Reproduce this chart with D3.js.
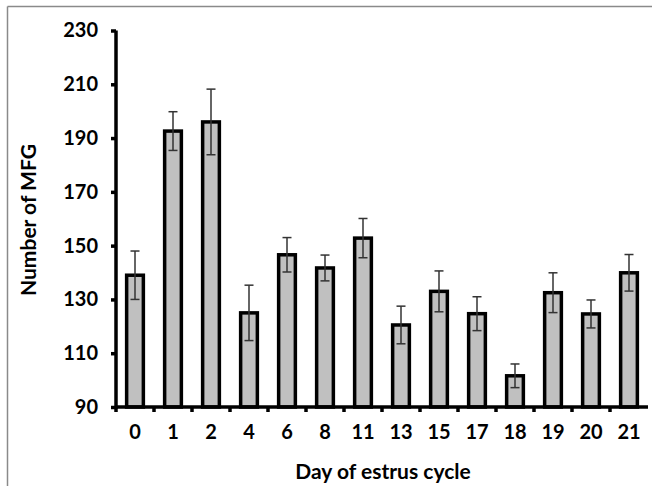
<!DOCTYPE html>
<meta charset="utf-8">
<style>
body { margin: 0; background: #fff; }
text { font-family: Lato, "Open Sans", sans-serif; font-weight: bold; fill: #000; }
</style>
<svg width="652" height="486"></svg>
<script src="https://cdn.jsdelivr.net/npm/d3@7"></script>
<script>

var days = ["0", "1", "2", "4", "6", "8", "11", "13", "15", "17", "18", "19", "20", "21"];
var means = [139, 192.6, 196, 125, 146.6, 141.7, 152.8, 120.5, 133, 124.7, 101.6, 132.5, 124.6, 139.9];
var errs = [9, 7.2, 12.2, 10.3, 6.4, 4.8, 7.3, 7, 7.6, 6.3, 4.4, 7.4, 5.2, 6.8];
var yTicks = [90, 110, 130, 150, 170, 190, 210, 230];

var svg = d3.select("svg");

// frame lines (top and left only)
svg.append("line").attr("x1", 7.5).attr("x2", 652).attr("y1", 6.5).attr("y2", 6.5)
  .attr("stroke", "#8a8a8a").attr("stroke-width", 1.5);
svg.append("line").attr("x1", 7.5).attr("x2", 7.5).attr("y1", 6.5).attr("y2", 486)
  .attr("stroke", "#8a8a8a").attr("stroke-width", 1.5);

var plotLeft = 116, plotRight = 648, plotTop = 30.5, plotBottom = 407;

var x = d3.scaleBand().domain(days).range([plotLeft, plotRight]);
var y = d3.scaleLinear().domain([90, 230]).range([plotBottom, plotTop]);

var bw = x.bandwidth() * 0.44;

var g = svg.append("g");

g.selectAll("rect.bar")
  .data(days)
  .enter().append("rect")
  .attr("class", "bar")
  .attr("x", function(d) { return x(d) + x.bandwidth() / 2 - bw / 2; })
  .attr("y", function(d, i) { return y(means[i]); })
  .attr("width", bw)
  .attr("height", function(d, i) { return plotBottom - y(means[i]); })
  .attr("fill", "#c0c0c0")
  .attr("stroke", "#000")
  .attr("stroke-width", 3.5);

var eb = g.selectAll("g.err")
  .data(days)
  .enter().append("g")
  .attr("class", "err")
  .attr("stroke", "#333")
  .attr("stroke-width", 1.5);

eb.append("line")
  .attr("x1", function(d) { return x(d) + x.bandwidth() / 2; })
  .attr("x2", function(d) { return x(d) + x.bandwidth() / 2; })
  .attr("y1", function(d, i) { return y(means[i] + errs[i]); })
  .attr("y2", function(d, i) { return y(means[i] - errs[i]); });
eb.append("line")
  .attr("x1", function(d) { return x(d) + x.bandwidth() / 2 - 4.5; })
  .attr("x2", function(d) { return x(d) + x.bandwidth() / 2 + 4.5; })
  .attr("y1", function(d, i) { return y(means[i] + errs[i]); })
  .attr("y2", function(d, i) { return y(means[i] + errs[i]); });
eb.append("line")
  .attr("x1", function(d) { return x(d) + x.bandwidth() / 2 - 4.5; })
  .attr("x2", function(d) { return x(d) + x.bandwidth() / 2 + 4.5; })
  .attr("y1", function(d, i) { return y(means[i] - errs[i]); })
  .attr("y2", function(d, i) { return y(means[i] - errs[i]); });

// y axis
var yAxis = svg.append("g")
  .attr("transform", "translate(" + plotLeft + ",0)")
  .call(d3.axisLeft(y).tickValues(yTicks).tickSize(5).tickPadding(13));
yAxis.select(".domain").attr("stroke-width", 3.5).attr("d", "M0," + (plotBottom + 2) + "V" + plotTop);
yAxis.selectAll(".tick line").attr("stroke-width", 3.5);
yAxis.selectAll(".tick text").style("font-size", "20px");

// x axis
var xAxis = svg.append("g")
  .attr("transform", "translate(0," + plotBottom + ")")
  .call(d3.axisBottom(x).tickSize(0).tickPadding(18));
xAxis.select(".domain").attr("stroke-width", 3.5).attr("d", "M" + plotLeft + ",0H" + plotRight);
xAxis.selectAll(".tick text").style("font-size", "20px");

// tick marks between categories
svg.append("g").selectAll("line")
  .data(days)
  .enter().append("line")
  .attr("x1", function(d) { return x(d); })
  .attr("x2", function(d) { return x(d); })
  .attr("y1", plotBottom)
  .attr("y2", plotBottom + 5)
  .attr("stroke", "#000")
  .attr("stroke-width", 3.5);

svg.append("text")
  .attr("x", 383)
  .attr("y", 479)
  .attr("text-anchor", "middle")
  .style("font-size", "21px")
  .text("Day of estrus cycle");

svg.append("text")
  .attr("transform", "translate(36,220) rotate(-90)")
  .attr("text-anchor", "middle")
  .style("font-size", "21px")
  .text("Number of MFG");
</script>
